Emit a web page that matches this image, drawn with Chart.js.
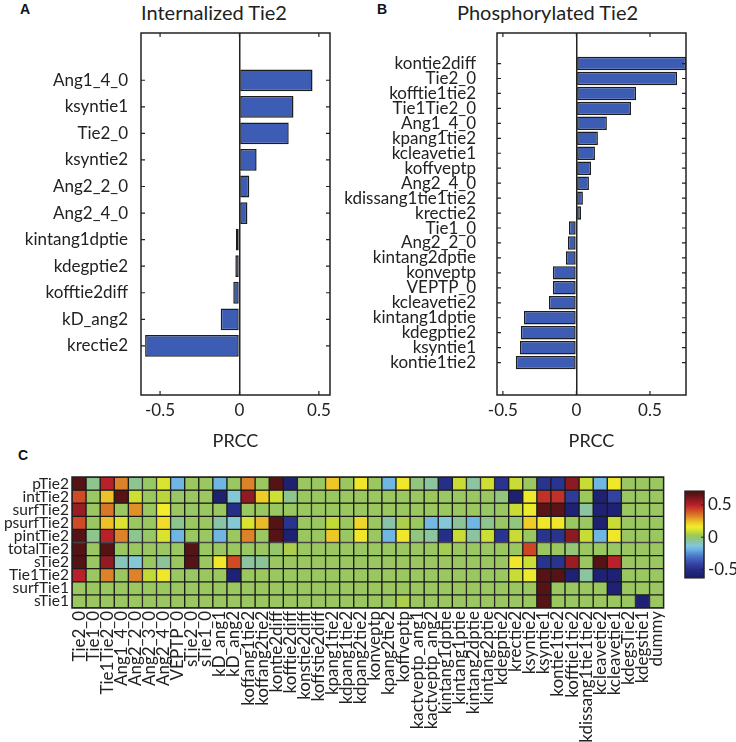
<!DOCTYPE html>
<html>
<head>
<meta charset="utf-8">
<script src="https://cdn.jsdelivr.net/npm/chart.js@4.4.1/dist/chart.umd.min.js"></script>
<style>
  body { margin: 0; background: #fff; width: 736px; height: 742px; position: relative; overflow: hidden; }
  canvas { position: absolute; }
  .panel { position: absolute; font-family: 'Liberation Sans', Arial, sans-serif; font-weight: bold; font-size: 14px; color: #111; }
  .title { position: absolute; font-family: Lato, sans-serif; font-size: 20px; color: #222; white-space: nowrap; }
</style>
</head>
<body>
<div class="panel" style="left:20px;top:1px">A</div>
<div class="title" style="left:141px;top:0px">Internalized Tie2</div>
<div class="panel" style="left:377px;top:1px">B</div>
<div class="title" style="left:457px;top:0px">Phosphorylated Tie2</div>
<div class="panel" style="left:18px;top:447px">C</div>

<canvas id="chartA" style="left:0;top:0" width="345" height="460"></canvas>
<canvas id="chartB" style="left:240px;top:0" width="460" height="460"></canvas>
<canvas id="chartC" style="left:0;top:460px" width="680" height="282"></canvas>
<canvas id="chartBar" style="left:680px;top:477px" width="56" height="115"></canvas>

<script>
(function(){

  // ---- data ----
  const internalizedParams = ['Ang1_4_0', 'ksyntie1', 'Tie2_0', 'ksyntie2', 'Ang2_2_0', 'Ang2_4_0',
    'kintang1dptie', 'kdegptie2', 'kofftie2diff', 'kD_ang2', 'krectie2'];
  const internalizedPrcc = [0.46, 0.34, 0.31, 0.108, 0.062, 0.05, -0.022, -0.026, -0.039, -0.118, -0.594];

  const phosphoParams = ['kontie2diff', 'Tie2_0', 'kofftie1tie2', 'Tie1Tie2_0', 'Ang1_4_0', 'kpang1tie2',
    'kcleavetie1', 'koffveptp', 'Ang2_4_0', 'kdissang1tie1tie2', 'krectie2', 'Tie1_0', 'Ang2_2_0',
    'kintang2dptie', 'konveptp', 'VEPTP_0', 'kcleavetie2', 'kintang1dptie', 'kdegptie2', 'ksyntie1', 'kontie1tie2'];
  const phosphoPrcc = [0.745, 0.684, 0.405, 0.371, 0.207, 0.146, 0.126, 0.099, 0.085, 0.044, 0.031,
    -0.051, -0.058, -0.071, -0.16, -0.16, -0.187, -0.357, -0.378, -0.384, -0.412];

  const prccTicks = [-0.5, 0, 0.5];

  const heatRows = ['pTie2', 'intTie2', 'surfTie2', 'psurfTie2', 'pintTie2', 'totalTie2', 'sTie2', 'Tie1Tie2', 'surfTie1', 'sTie1'];
  const heatCols = ['Tie2_0', 'Tie1_0', 'Tie1Tie2_0', 'Ang1_4_0', 'Ang2_2_0', 'Ang2_3_0', 'Ang2_4_0', 'VEPTP_0',
    'sTie2_0', 'sTie1_0', 'kD_ang1', 'kD_ang2', 'koffang1tie2', 'koffang2tie2', 'kontie2diff', 'kofftie2diff',
    'konstie2diff', 'koffstie2diff', 'kpang1tie2', 'kdpang1tie2', 'kdpang2tie2', 'konveptp', 'kpang2tie2',
    'koffveptp', 'kactveptp_ang1', 'kactveptp_ang2', 'kintang1dptie', 'kintang1ptie', 'kintang2dptie',
    'kintang2ptie', 'kdegptie2', 'krectie2', 'ksyntie2', 'ksyntie1', 'kontie1tie2', 'kofftie1tie2',
    'kdissang1tie1tie2', 'kcleavetie2', 'kcleavetie1', 'kdegsTie2', 'kdegstie1', 'dummy'];

  // one array per output row, one value per parameter column
  const pTie2 = [0.68, -0.04, 0.5, 0.33, -0.04, 0.01, 0.12, -0.18, 0.02, 0.02,
    -0.18, 0.02, 0.33, 0.02, 0.68, -0.6, 0.02, 0.02, 0.23, 0.02,
    0.17, 0.02, -0.18, 0.17, -0.02, -0.06, -0.5, 0.09, -0.06, 0.1,
    -0.48, 0.09, 0.02, -0.48, -0.48, 0.58, 0.09, -0.18, 0.17, 0.02, 0.02, 0.02];
  const intTie2 = [0.42, 0.02, 0.24, 0.67, 0.1, 0.02, 0.07, 0.01, 0.02, 0.02,
    -0.6, -0.13, 0.57, 0.22, 0.1, -0.04, 0.02, 0.02, 0.02, 0.02,
    0.02, 0.02, 0.02, 0.02, 0.02, 0.03, 0.01, 0.02, 0.02, 0.02,
    -0.02, -0.6, 0.15, 0.47, 0.47, -0.45, 0.03, -0.58, -0.42, 0.02, 0.02, 0.02];
  const surfTie2 = [0.55, 0.02, 0.35, 0.02, 0.31, 0.02, 0.16, 0.02, 0.01, 0.02,
    0.02, -0.5, 0.02, 0.02, 0.02, 0.02, 0.02, 0.02, 0.02, 0.02,
    0.02, 0.02, 0.02, 0.02, 0.02, 0.02, 0.02, 0.02, 0.02, 0.01,
    0.02, 0.09, 0.15, 0.66, 0.66, -0.58, -0.06, -0.58, -0.58, 0.02, 0.02, 0.02];
  const psurfTie2 = [0.42, 0.02, 0.24, 0.12, 0.02, 0.02, 0.19, -0.04, 0.02, 0.02,
    -0.07, -0.13, 0.12, 0.25, 0.68, -0.48, 0.02, 0.02, 0.08, 0.02,
    0.2, 0.02, -0.07, 0.05, 0.02, -0.17, -0.13, -0.05, -0.18, -0.04,
    0.02, -0.02, 0.22, 0.17, 0.17, 0.02, 0.02, -0.58, 0.09, 0.02, 0.02, 0.02];
  const pintTie2 = [0.68, -0.04, 0.5, 0.33, -0.04, 0.01, 0.12, -0.18, 0.02, 0.02,
    -0.18, 0.02, 0.33, 0.02, 0.68, -0.6, 0.02, 0.02, 0.23, 0.02,
    0.17, 0.02, -0.18, 0.17, -0.02, -0.06, -0.5, 0.09, -0.06, 0.1,
    -0.48, 0.09, 0.02, -0.48, -0.48, 0.58, 0.09, -0.18, 0.17, 0.02, 0.02, 0.02];
  const totalTie2 = [0.68, 0.02, 0.68, 0.02, 0.02, 0.02, 0.02, 0.02, 0.68, 0.02,
    0.02, 0.02, 0.02, 0.02, 0.0, 0.05, 0.02, 0.02, 0.02, 0.02,
    0.02, 0.02, 0.02, 0.02, 0.02, 0.02, 0.04, 0.02, 0.02, 0.02,
    0.02, 0.02, 0.43, 0.02, 0.02, -0.01, 0.02, 0.02, 0.01, 0.02, 0.02, 0.02];
  const sTie2 = [0.68, 0.02, 0.57, -0.09, -0.13, 0.02, -0.05, 0.02, 0.68, 0.02,
    0.17, 0.42, -0.06, -0.05, 0.02, 0.02, 0.02, 0.02, 0.02, 0.02,
    0.02, 0.02, 0.02, 0.02, 0.02, 0.02, 0.02, 0.02, 0.02, 0.02,
    0.02, 0.17, 0.1, -0.48, -0.48, 0.55, 0.02, 0.68, 0.5, 0.02, 0.02, 0.02];
  const tie1Tie2 = [0.5, 0.02, 0.33, 0.02, 0.33, 0.08, 0.17, 0.02, 0.01, 0.02,
    0.02, -0.58, 0.02, 0.02, 0.02, 0.02, 0.02, 0.02, 0.02, 0.02,
    0.02, 0.02, 0.02, 0.02, 0.02, 0.02, 0.02, 0.02, 0.02, 0.02,
    0.02, 0.09, 0.15, 0.68, 0.68, -0.58, -0.06, -0.58, -0.58, 0.02, 0.02, 0.02];
  const surfTie1 = [0.02, 0.02, 0.02, 0.02, 0.02, 0.02, 0.02, 0.02, 0.02, 0.02,
    0.02, 0.02, 0.02, 0.02, 0.02, 0.02, 0.02, 0.02, 0.02, 0.02,
    0.02, 0.02, 0.02, 0.02, 0.02, 0.02, 0.02, 0.02, 0.02, 0.02,
    0.02, 0.02, 0.02, 0.68, 0.02, 0.02, 0.02, 0.02, -0.58, 0.02, 0.02, 0.02];
  const sTie1 = [0.02, 0.02, 0.02, 0.02, 0.02, 0.02, 0.02, 0.02, 0.02, 0.02,
    0.02, 0.02, 0.02, 0.02, 0.02, 0.02, 0.02, 0.02, 0.02, 0.02,
    0.02, 0.02, 0.02, 0.05, 0.02, 0.02, 0.02, 0.02, 0.02, 0.02,
    0.02, 0.02, 0.02, 0.68, 0.02, 0.02, 0.02, 0.02, 0.02, 0.02, -0.58, 0.02];
  const heatValues = [pTie2, intTie2, surfTie2, psurfTie2, pintTie2, totalTie2, sTie2, tie1Tie2, surfTie1, sTie1];

  const colorbarTicks = [0.5, 0, -0.5];
  const colorbarMin = -0.63;
  const colorbarMax = 0.714;

  // jet-like colour map
  const cmap = [
    [-0.63, '#1c1c6a'], [-0.52, '#232a80'], [-0.42, '#3342a2'], [-0.3, '#4a72c6'],
    [-0.19, '#6cb2e6'], [-0.13, '#84c8d6'], [-0.08, '#88c4b0'], [-0.04, '#8ec48e'],
    [0.0, '#96c66c'], [0.03, '#9cc85a'], [0.08, '#c2da36'], [0.16, '#f2ec2a'],
    [0.24, '#ecc228'], [0.33, '#dc8228'], [0.42, '#d04a26'], [0.5, '#b8202a'],
    [0.58, '#8c1a22'], [0.66, '#5a1418'], [0.714, '#4e1012']
  ];

  function hexToRgb(h) {
    return [parseInt(h.slice(1, 3), 16), parseInt(h.slice(3, 5), 16), parseInt(h.slice(5, 7), 16)];
  }

  function prccColor(v) {
    if (v <= cmap[0][0]) return cmap[0][1];
    for (let i = 1; i < cmap.length; i++) {
      if (v <= cmap[i][0]) {
        const [v0, c0] = cmap[i - 1];
        const [v1, c1] = cmap[i];
        const t = (v - v0) / (v1 - v0);
        const a = hexToRgb(c0), b = hexToRgb(c1);
        const rgb = a.map((x, k) => Math.round(x + (b[k] - x) * t));
        return `rgb(${rgb[0]},${rgb[1]},${rgb[2]})`;
      }
    }
    return cmap[cmap.length - 1][1];
  }

  Chart.defaults.font.family = 'Lato, "Open Sans", sans-serif';
  Chart.defaults.font.size = 17;
  Chart.defaults.color = '#222';

  // matlab style box with inward ticks
  const framePlugin = {
    id: 'frame',
    afterDraw(chart, args, o) {
      if (!o || !o.show) return;
      const { ctx, chartArea: a } = chart;
      ctx.save();
      ctx.strokeStyle = '#222';
      ctx.lineWidth = o.lineWidth || 1.5;
      ctx.strokeRect(a.left, a.top, a.right - a.left, a.bottom - a.top);
      if (o.ticks) {
        const len = 4;
        ctx.lineWidth = 1.2;
        ctx.beginPath();
        chart.scales.x.ticks.forEach(t => {
          const px = chart.scales.x.getPixelForValue(t.value);
          ctx.moveTo(px, a.top); ctx.lineTo(px, a.top + len);
          ctx.moveTo(px, a.bottom); ctx.lineTo(px, a.bottom - len);
        });
        chart.scales.y.ticks.forEach(t => {
          const py = chart.scales.y.getPixelForValue(t.value);
          ctx.moveTo(a.left, py); ctx.lineTo(a.left + len, py);
          ctx.moveTo(a.right, py); ctx.lineTo(a.right - len, py);
        });
        ctx.stroke();
      }
      ctx.restore();
    }
  };
  Chart.register(framePlugin);

  function prccChart(id, params, prcc, cfg) {
    return new Chart(document.getElementById(id), {
      type: 'bar',
      data: {
        datasets: [{
          data: prcc.map((v, i) => ({ x: v, y: i + 1 })),
          backgroundColor: '#3c5db3',
          borderColor: '#1d1d1d',
          borderWidth: 1.5,
          borderSkipped: false,
          categoryPercentage: 1,
          barPercentage: cfg.barPct
        }]
      },
      options: {
        indexAxis: 'y',
        responsive: false,
        animation: false,
        layout: { padding: { top: cfg.top, right: cfg.right, left: 0, bottom: 0 } },
        plugins: {
          legend: { display: false },
          tooltip: { enabled: false },
          frame: { show: true, ticks: true }
        },
        scales: {
          x: {
            type: 'linear', min: cfg.xMin, max: cfg.xMax,
            afterBuildTicks: ax => { ax.ticks = prccTicks.map(v => ({ value: v })); },
            afterFit: ax => { ax.height = cfg.xHeight; },
            grid: {
              drawTicks: false, lineWidth: 1.5,
              color: c => (c.tick && c.tick.value === 0 ? '#222' : 'rgba(0,0,0,0)')
            },
            border: { display: false },
            ticks: { padding: 5, callback: v => String(v) },
            title: { display: true, text: 'PRCC', padding: { top: 0, bottom: 8 }, font: { size: 18 } }
          },
          y: {
            type: 'linear', reverse: true, min: cfg.yMin, max: cfg.yMax,
            afterBuildTicks: ax => { ax.ticks = params.map((_, i) => ({ value: i + 1 })); },
            afterFit: ax => { ax.width = cfg.yWidth; },
            grid: { display: false, drawTicks: false },
            border: { display: false },
            ticks: { padding: cfg.labelPad, autoSkip: false, callback: v => params[v - 1] }
          }
        }
      }
    });
  }

  prccChart('chartA', internalizedParams, internalizedPrcc, {
    top: 33, right: 15, xMin: -0.62, xMax: 0.57, xHeight: 65,
    yMin: -0.16, yMax: 12.23, yWidth: 141, labelPad: 13, barPct: 0.82
  });

  prccChart('chartB', phosphoParams, phosphoPrcc, {
    top: 33, right: 14, xMin: -0.54, xMax: 0.745, xHeight: 65,
    yMin: -0.465, yMax: 22.59, yWidth: 257, labelPad: 21, barPct: 0.9
  });

  // heatmap: one stacked segment per cell, coloured by its PRCC
  new Chart(document.getElementById('chartC'), {
    type: 'bar',
    data: {
      labels: heatCols,
      datasets: heatRows.map((name, r) => ({
        label: name,
        data: heatCols.map(() => 1),
        backgroundColor: heatValues[r].map(prccColor),
        borderColor: '#1a1a1a',
        borderWidth: 1,
        borderSkipped: false,
        categoryPercentage: 1,
        barPercentage: 1
      }))
    },
    options: {
      responsive: false,
      animation: false,
      layout: { padding: { top: 17, right: 1 } },
      plugins: {
        legend: { display: false },
        tooltip: { enabled: false },
        frame: { show: true, lineWidth: 1.5 }
      },
      scales: {
        x: {
          stacked: true,
          grid: { display: false, drawTicks: false },
          border: { display: false },
          afterFit: ax => { ax.height = 134; },
          ticks: { autoSkip: false, minRotation: 90, maxRotation: 90, padding: 3 }
        },
        y: {
          type: 'linear', stacked: true, reverse: true, min: 0, max: 10,
          afterBuildTicks: ax => { ax.ticks = heatRows.map((_, i) => ({ value: i + 0.5 })); },
          afterFit: ax => { ax.width = 72; },
          grid: { display: false, drawTicks: false },
          border: { display: false },
          ticks: { padding: 3, autoSkip: false, font: { size: 15.5 }, callback: v => heatRows[Math.floor(v)] }
        }
      }
    }
  });

  // colour bar
  const gradientPlugin = {
    id: 'gradientFill',
    beforeDatasetsDraw(chart) {
      const { ctx, chartArea: a, scales: { y } } = chart;
      const g = ctx.createLinearGradient(0, a.bottom, 0, a.top);
      const h = a.bottom - a.top;
      cmap.forEach(([v, c]) => {
        const p = (a.bottom - y.getPixelForValue(v)) / h;
        g.addColorStop(Math.min(1, Math.max(0, p)), c);
      });
      ctx.save();
      ctx.fillStyle = g;
      ctx.fillRect(a.left, a.top, a.right - a.left, h);
      ctx.strokeStyle = '#222';
      ctx.lineWidth = 1;
      ctx.beginPath();
      y.ticks.forEach(t => {
        const py = y.getPixelForValue(t.value);
        ctx.moveTo(a.right, py); ctx.lineTo(a.right - 3, py);
      });
      ctx.stroke();
      ctx.restore();
    }
  };

  new Chart(document.getElementById('chartBar'), {
    type: 'bar',
    data: { datasets: [] },
    options: {
      responsive: false,
      animation: false,
      layout: { padding: { left: 5, top: 10, bottom: 11, right: 0 } },
      plugins: {
        legend: { display: false },
        tooltip: { enabled: false },
        frame: { show: true, lineWidth: 1.5 }
      },
      scales: {
        x: { display: false },
        y: {
          type: 'linear', position: 'right', min: colorbarMin, max: colorbarMax,
          afterBuildTicks: ax => { ax.ticks = colorbarTicks.map(v => ({ value: v })); },
          afterFit: ax => { ax.width = 32; },
          grid: { display: false, drawTicks: false },
          border: { display: false },
          ticks: { padding: 4, autoSkip: false, callback: v => String(v) }
        }
      }
    },
    plugins: [gradientPlugin]
  });

})();
</script>
</body>
</html>
